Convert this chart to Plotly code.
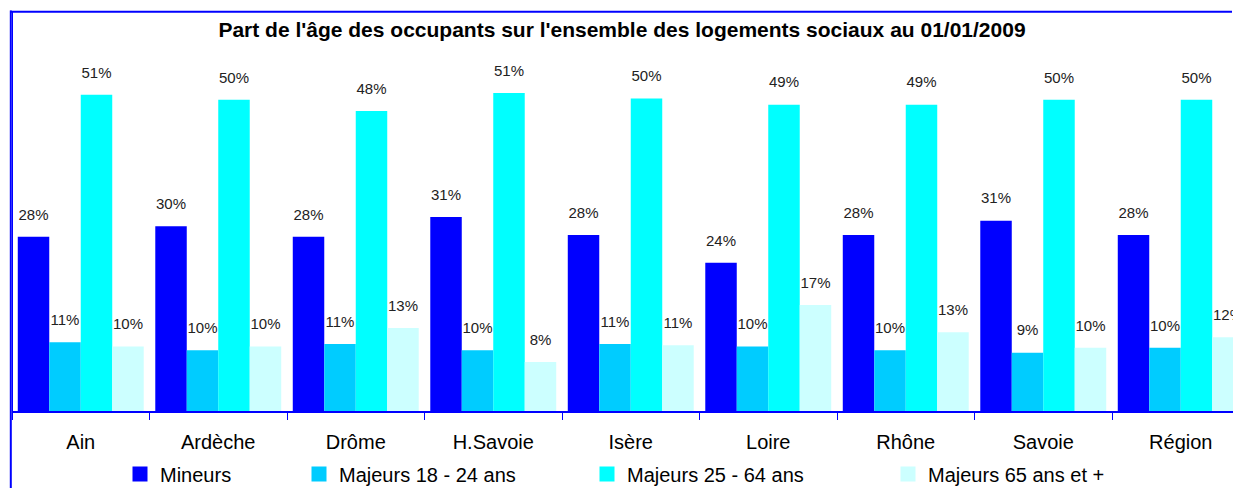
import plotly.graph_objects as go

categories = ["Ain", "Ardèche", "Drôme", "H.Savoie", "Isère", "Loire", "Rhône", "Savoie", "Région"]
series_names = ["Mineurs", "Majeurs 18 - 24 ans", "Majeurs 25 - 64 ans", "Majeurs 65 ans et +"]
mineurs = [28.1, 29.8, 28.1, 31.3, 28.4, 23.9, 28.4, 30.7, 28.4]
majeurs_18_24 = [11.1, 9.8, 10.8, 9.8, 10.8, 10.4, 9.8, 9.4, 10.2]
majeurs_25_64 = [51.0, 50.2, 48.4, 51.3, 50.4, 49.4, 49.4, 50.2, 50.2]
majeurs_65_plus = [10.4, 10.4, 13.4, 7.9, 10.6, 17.1, 12.7, 10.2, 11.9]
series_values = [mineurs, majeurs_18_24, majeurs_25_64, majeurs_65_plus]
colors = ["#0000FF", "#00CCFF", "#00FFFF", "#CCFFFF"]
title_text = "Part de l'âge des occupants sur l'ensemble des logements sociaux au 01/01/2009"

W, H = 1233, 488
ML, MT, MB = 12, 39, 77
plot_w = W - ML
plot_h = H - MT - MB
cat_px = 137.5
FONT = "Liberation Sans, Arial, sans-serif"

fig = go.Figure()
legend_ids = ["legend", "legend2", "legend3", "legend4"]
for i, (name, vals, col) in enumerate(zip(series_names, series_values, colors)):
    fig.add_trace(go.Bar(
        x=categories, y=vals, name=name, marker=dict(color=col, line=dict(width=0)),
        showlegend=False, offsetgroup=str(i), hoverinfo="skip",
    ))
for i, (name, vals, col) in enumerate(zip(series_names, series_values, colors)):
    fig.add_trace(go.Scatter(
        x=categories, y=vals, mode="markers+text", offsetgroup=str(i),
        marker=dict(size=20, opacity=0, color=col),
        texttemplate="%{y:.0f}%", textposition="top center",
        textfont=dict(family=FONT, size=15, color="#222222"),
        showlegend=False, hoverinfo="skip",
    ))
# legend-only entries
for i, (name, col) in enumerate(zip(series_names, colors)):
    fig.add_trace(go.Scatter(
        x=[None], y=[None], mode="markers", name=name,
        marker=dict(symbol="square", size=15, color=col),
        legend=legend_ids[i], showlegend=True,
    ))

legend_x_px = [120, 299, 587, 888]
layout_legends = {}
for i, lid in enumerate(legend_ids):
    layout_legends[lid] = dict(
        x=legend_x_px[i] / W, xref="container", xanchor="left",
        y=1 - 474 / H, yref="container", yanchor="middle",
        orientation="h", bgcolor="rgba(0,0,0,0)", itemsizing="trace",
        font=dict(family=FONT, size=20, color="#000000"),
    )

def px_x(p):
    return (p - ML) / plot_w

def px_y(p):
    return (H - MB - p) / plot_h

fig.update_layout(
    width=W, height=H,
    margin=dict(l=ML, r=0, t=MT, b=MB, pad=0),
    paper_bgcolor="white", plot_bgcolor="white",
    barmode="group", bargap=0.084, bargroupgap=0,
    scattermode="group", scattergap=0.084,
    title=dict(text="<b>" + title_text + "</b>", x=622 / W, xref="container", xanchor="center",
               y=1 - 30 / H, yref="container", yanchor="middle",
               font=dict(family=FONT, size=21, color="#000000")),
    xaxis=dict(
        type="category", range=[-0.5, -0.5 + plot_w / cat_px],
        showline=True, linecolor="#0000FF", linewidth=1.5,
        ticks="outside", tickson="boundaries", ticklen=7, tickcolor="#0000FF", tickwidth=1,
        tickfont=dict(family=FONT, size=20, color="#000000"), ticklabelstandoff=12,
        showgrid=False, zeroline=False, fixedrange=True,
    ),
    yaxis=dict(
        range=[0, plot_h / 6.2], showline=False, visible=False,
        showgrid=False, zeroline=False, fixedrange=True,
    ),
    shapes=[
        dict(type="line", xref="paper", yref="paper", x0=px_x(10.8), x1=px_x(10.8),
             y0=px_y(10.5), y1=px_y(H), line=dict(color="#0000FF", width=2)),
        dict(type="line", xref="paper", yref="paper", x0=px_x(12.5), x1=px_x(12.5),
             y0=px_y(11), y1=px_y(411), line=dict(color="#0000FF", width=1)),
        dict(type="line", xref="paper", yref="paper", x0=px_x(10), x1=px_x(W - 1),
             y0=px_y(11.8), y1=px_y(11.8), line=dict(color="#0000FF", width=2)),
    ],
    **layout_legends,
)

fig.write_html(
    "out.html",
    config={"displayModeBar": False},
    post_script="document.body.style.margin='0px';document.body.style.overflow='hidden';",
)
